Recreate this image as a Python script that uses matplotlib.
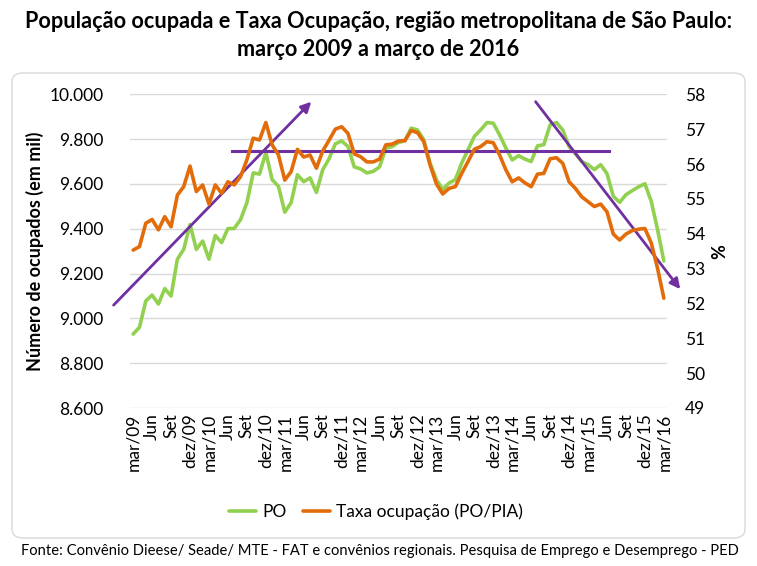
import matplotlib
matplotlib.use("Agg")
import matplotlib.pyplot as plt
from matplotlib.patches import FancyBboxPatch
import numpy as np

plt.rcParams['font.family'] = ['Lato', 'DejaVu Sans']

# ---- data (mar/2009 .. mar/2016, monthly) ----
po = [8930, 8960, 9078, 9104, 9064, 9133, 9100, 9264, 9308, 9419,
      9308, 9345, 9264, 9370, 9338, 9401, 9401, 9441, 9516, 9649,
      9644, 9740, 9619, 9589, 9474, 9516, 9641, 9610, 9627, 9562,
      9663, 9712, 9779, 9792, 9767, 9676, 9667, 9649, 9656, 9676,
      9760, 9767, 9785, 9792, 9849, 9841, 9797, 9693, 9619, 9575,
      9604, 9619, 9693, 9752, 9812, 9841, 9874, 9871, 9819, 9760,
      9707, 9726, 9711, 9700, 9770, 9775, 9864, 9874, 9841, 9767,
      9735, 9700, 9686, 9664, 9686, 9646, 9545, 9518, 9552, 9570,
      9587, 9601, 9523, 9397, 9256]
taxa = [53.53, 53.63, 54.30, 54.41, 54.11, 54.49, 54.20, 55.11, 55.35, 55.94,
        55.21, 55.40, 54.85, 55.40, 55.16, 55.49, 55.40, 55.64, 56.12, 56.74,
        56.69, 57.19, 56.55, 56.26, 55.54, 55.78, 56.42, 56.20, 56.26, 55.88,
        56.37, 56.68, 57.00, 57.07, 56.88, 56.29, 56.21, 56.06, 56.06, 56.14,
        56.55, 56.57, 56.66, 56.67, 56.96, 56.90, 56.64, 55.97, 55.43, 55.14,
        55.30, 55.35, 55.73, 56.07, 56.42, 56.50, 56.64, 56.61, 56.26, 55.83,
        55.49, 55.60, 55.46, 55.35, 55.71, 55.73, 56.15, 56.18, 56.02, 55.49,
        55.30, 55.06, 54.92, 54.78, 54.85, 54.63, 53.99, 53.82, 53.99, 54.09,
        54.13, 54.15, 53.74, 53.01, 52.15]
tick_labels = ['mar/09', 'Jun', 'Set', 'dez/09', 'mar/10', 'Jun', 'Set', 'dez/10',
               'mar/11', 'Jun', 'Set', 'dez/11', 'mar/12', 'Jun', 'Set', 'dez/12',
               'mar/13', 'Jun', 'Set', 'dez/13', 'mar/14', 'Jun', 'Set', 'dez/14',
               'mar/15', 'Jun', 'Set', 'dez/15', 'mar/16']
left_ticks = [8600, 8800, 9000, 9200, 9400, 9600, 9800, 10000]
right_ticks = [49, 50, 51, 52, 53, 54, 55, 56, 57, 58]

# trend annotations (category index, PO scale)
trend_up = ((-3.1, 9059), (28.2, 9967))
trend_flat = ((15.7, 9748), (75.3, 9748))
trend_down = ((63.7, 9967), (86.6, 9130))

GREEN = '#92D050'
ORANGE = '#E36C0A'
PURPLE = '#7030A0'

fig = plt.figure(figsize=(7.57, 5.66), dpi=100)

# rounded chart border
border = FancyBboxPatch((12/757, 1-538/566), (745-12)/757, (538-73)/566,
                        boxstyle="round,pad=0,rounding_size=0.015",
                        transform=fig.transFigure, fill=False,
                        edgecolor='#D9D9D9', linewidth=1.0)
fig.patches.append(border)

ax = fig.add_axes([130/757, 1-408/566, (667-130)/757, (408-94.3)/566])
ax2 = ax.twinx()

x = np.arange(len(po))
ax.plot(x, po, color=GREEN, linewidth=2.6, solid_capstyle='round', solid_joinstyle='round', label='PO', zorder=3)
ax2.plot(x, taxa, color=ORANGE, linewidth=2.6, solid_capstyle='round', solid_joinstyle='round', label='Taxa ocupação (PO/PIA)', zorder=3)

ax.set_xlim(-0.5, len(po) - 0.5)
ax.set_ylim(left_ticks[0], left_ticks[-1])
ax2.set_ylim(right_ticks[0], right_ticks[-1])
ax.set_yticks(left_ticks)
ax.set_yticklabels([f"{v:,}".replace(',', '.') for v in left_ticks])
ax2.set_yticks(right_ticks)
ax2.set_yticklabels([str(v) for v in right_ticks])
ax.set_xticks(x[::3])
ax.set_xticklabels(tick_labels, rotation=90, va='top', ha='center')

ax.grid(axis='y', color='#D9D9D9', linewidth=1.0)
ax.set_axisbelow(True)
for a in (ax, ax2):
    for s in a.spines.values():
        s.set_visible(False)
    a.tick_params(length=0, labelsize=12.5, colors='#000000')
ax.tick_params(axis='y', pad=19)
ax.tick_params(axis='x', pad=4)
ax2.tick_params(axis='y', pad=13)

ax.set_ylabel('Número de ocupados (em mil)', fontsize=13, fontweight='bold', labelpad=4)
ax2.set_ylabel('%', fontsize=13, fontweight='bold', labelpad=4)

# trend annotations
arrow_kw = dict(arrowstyle='-|>,head_length=0.6,head_width=0.3', color=PURPLE, lw=2.0, shrinkA=0, shrinkB=0)
ax.annotate('', xy=trend_up[1], xytext=trend_up[0], xycoords='data', arrowprops=arrow_kw, annotation_clip=False, zorder=5)
ax.annotate('', xy=trend_down[1], xytext=trend_down[0], xycoords='data', arrowprops=arrow_kw, annotation_clip=False, zorder=5)
ax.plot([trend_flat[0][0], trend_flat[1][0]], [trend_flat[0][1], trend_flat[1][1]], color=PURPLE, lw=2.2, zorder=5, clip_on=False)

ax2.set_zorder(ax.get_zorder() + 1)
ax2.patch.set_visible(False)
ax.patch.set_visible(False)

fig.text(0.5, 1-21/566, 'População ocupada e Taxa Ocupação, região metropolitana de São Paulo:',
         ha='center', va='center', fontsize=15.6, fontweight='bold')
fig.text(0.5, 1-49/566, 'março 2009 a março de 2016',
         ha='center', va='center', fontsize=15.6, fontweight='bold')

h1, l1 = ax.get_legend_handles_labels()
h2, l2 = ax2.get_legend_handles_labels()
fig.legend(h1 + h2, l1 + l2, loc='center', bbox_to_anchor=(376/757, 1-512/566), ncol=2,
           frameon=False, fontsize=12.5, handlelength=1.6, columnspacing=0.9, handletextpad=0.35)

fig.text(380/757, 1-551/566,
         'Fonte: Convênio Dieese/ Seade/ MTE - FAT e convênios regionais. Pesquisa de Emprego e Desemprego - PED',
         ha='center', va='center', fontsize=10.6)

fig.savefig('out.png', dpi=100)
